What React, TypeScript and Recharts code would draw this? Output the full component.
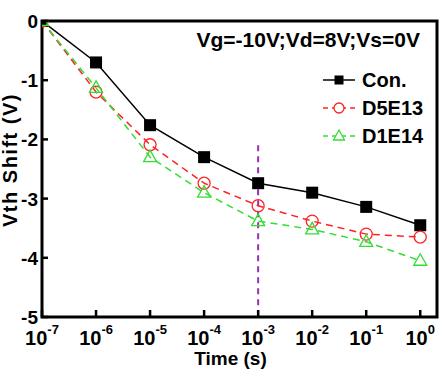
import React from 'react';
import { LineChart, Line, XAxis, YAxis, ReferenceLine, ReferenceArea } from 'recharts';

// time in log10(s)
const timeExponents = [-7, -6, -5, -4, -3, -2, -1, 0];
const conShift = [0, -0.7, -1.76, -2.3, -2.74, -2.9, -3.14, -3.45];
const d5e13Shift = [0, -1.2, -2.09, -2.74, -3.12, -3.38, -3.6, -3.65];
const d1e14Shift = [0, -1.13, -2.3, -2.9, -3.38, -3.52, -3.73, -4.05];
const yTicks = [0, -1, -2, -3, -4, -5];
const markerTime = -3;
const markerTop = -2.1;
const biasText = 'Vg=-10V;Vd=8V;Vs=0V';
const seriesNames = ['Con.', 'D5E13', 'D1E14'];

const FONT = '"Liberation Sans", Arial, sans-serif';
const RED = '#f22';
const GREEN = '#3d3';

const data = timeExponents.map((t, i) => ({
  t,
  con: conShift[i],
  d5e13: d5e13Shift[i],
  d1e14: d1e14Shift[i],
}));

const SquareDot = (props: any) => {
  const { cx, cy } = props;
  if (cx == null || cy == null) return null;
  return <rect x={cx - 6} y={cy - 6} width={12} height={12} fill="#000" />;
};

const CircleDot = (props: any) => {
  const { cx, cy } = props;
  if (cx == null || cy == null) return null;
  return <circle cx={cx} cy={cy} r={6} fill="none" stroke={RED} strokeWidth={1.3} />;
};

const TriangleDot = (props: any) => {
  const { cx, cy } = props;
  if (cx == null || cy == null) return null;
  return (
    <polygon
      points={`${cx},${cy - 7} ${cx - 6.5},${cy + 4.5} ${cx + 6.5},${cy + 4.5}`}
      fill="none"
      stroke={GREEN}
      strokeWidth={1.3}
    />
  );
};

const XTick = (props: any) => {
  const { x, y, payload } = props;
  return (
    <g>
      <line x1={x} y1={y} x2={x} y2={y - 7} stroke="#000" strokeWidth={2.5} />
      <text x={x} y={y + 28} textAnchor="middle" fontFamily={FONT} fontWeight="bold" fontSize={20} fill="#000">
        10
        <tspan fontSize={13} dy={-11}>{payload.value}</tspan>
      </text>
    </g>
  );
};

const YTick = (props: any) => {
  const { x, y, payload } = props;
  return (
    <g>
      <line x1={x} y1={y} x2={x + 6} y2={y} stroke="#000" strokeWidth={2.5} />
      <text x={x - 4} y={y + 7} textAnchor="end" fontFamily={FONT} fontWeight="bold" fontSize={19} fill="#000">
        {payload.value}
      </text>
    </g>
  );
};

const XTitle = (props: any) => {
  const vb = props.viewBox;
  return (
    <text x={vb.x + vb.width / 2 - 9} y={vb.y + 48} textAnchor="middle" fontFamily={FONT} fontWeight="bold" fontSize={19} fill="#000">
      Time (s)
    </text>
  );
};

const YTitle = (props: any) => {
  const vb = props.viewBox;
  const cy = vb.y + vb.height / 2 - 9;
  return (
    <text
      x={17}
      y={cy}
      transform={`rotate(-90, 17, ${cy})`}
      textAnchor="middle"
      fontFamily={FONT}
      fontWeight="bold"
      fontSize={20}
      letterSpacing={1.5}
      fill="#000"
    >
      Vth Shift (V)
    </text>
  );
};

const BiasLabel = (props: any) => {
  const vb = props.viewBox;
  return (
    <text x={vb.x + vb.width - 17} y={vb.y + 26} textAnchor="end" fontFamily={FONT} fontWeight="bold" fontSize={21} fill="#000">
      {biasText}
    </text>
  );
};

const LegendBox = () => {
  const rows = [
    { color: '#000', dash: undefined, kind: 'square' },
    { color: RED, dash: '5 4', kind: 'circle' },
    { color: GREEN, dash: '5 4', kind: 'triangle' },
  ];
  return (
    <svg width={122} height={84} style={{ display: 'block' }}>
      {rows.map((r, i) => {
        const cy = 14 + i * 28;
        return (
          <g key={seriesNames[i]}>
            <line x1={5} y1={cy} x2={37} y2={cy} stroke={r.color} strokeWidth={1.5} strokeDasharray={r.dash} />
            {r.kind === 'square' && <rect x={16.5} y={cy - 4.5} width={9} height={9} fill="#000" />}
            {r.kind === 'circle' && <circle cx={21} cy={cy} r={5} fill="#fff" stroke={RED} strokeWidth={1.3} />}
            {r.kind === 'triangle' && (
              <polygon
                points={`21,${cy - 6} 15.5,${cy + 4} 26.5,${cy + 4}`}
                fill="#fff"
                stroke={GREEN}
                strokeWidth={1.3}
              />
            )}
            <text x={44} y={cy + 7} fontFamily={FONT} fontWeight="bold" fontSize={20} fill="#000">
              {seriesNames[i]}
            </text>
          </g>
        );
      })}
    </svg>
  );
};

export default function App() {
  return (
    <div style={{ position: 'absolute', left: 0, top: 0, width: 440, height: 371, background: '#fff' }}>
      <LineChart width={440} height={371} data={data} margin={{ top: 21, right: 3, bottom: 0, left: 0 }}>
        <XAxis
          dataKey="t"
          type="number"
          domain={[-7, 0.31]}
          ticks={timeExponents}
          interval={0}
          allowDataOverflow
          height={54}
          tickSize={0}
          tickMargin={0}
          tickLine={false}
          axisLine={false}
          tick={<XTick />}
          label={<XTitle />}
        />
        <YAxis
          type="number"
          domain={[-5, 0]}
          ticks={yTicks}
          interval={0}
          allowDataOverflow
          width={42}
          tickSize={0}
          tickMargin={0}
          tickLine={false}
          axisLine={false}
          tick={<YTick />}
          label={<YTitle />}
        />
        <ReferenceArea
          x1={-7}
          x2={0.31}
          y1={-5}
          y2={0}
          fill="none"
          fillOpacity={0}
          stroke="#000"
          strokeWidth={3}
          label={<BiasLabel />}
        />
        <ReferenceLine
          segment={[
            { x: markerTime, y: markerTop },
            { x: markerTime, y: -5 },
          ]}
          stroke="#9a2fb0"
          strokeWidth={2}
          strokeDasharray="6 5"
        />
        <Line
          dataKey="con"
          name={seriesNames[0]}
          stroke="#000"
          strokeWidth={1.5}
          dot={<SquareDot />}
          isAnimationActive={false}
        />
        <Line
          dataKey="d5e13"
          name={seriesNames[1]}
          stroke={RED}
          strokeWidth={1.5}
          strokeDasharray="7 5"
          dot={<CircleDot />}
          isAnimationActive={false}
        />
        <Line
          dataKey="d1e14"
          name={seriesNames[2]}
          stroke={GREEN}
          strokeWidth={1.5}
          strokeDasharray="7 5"
          dot={<TriangleDot />}
          isAnimationActive={false}
        />
      </LineChart>
      <div style={{ position: 'absolute', left: 318, top: 66 }}>
        <LegendBox />
      </div>
    </div>
  );
}
